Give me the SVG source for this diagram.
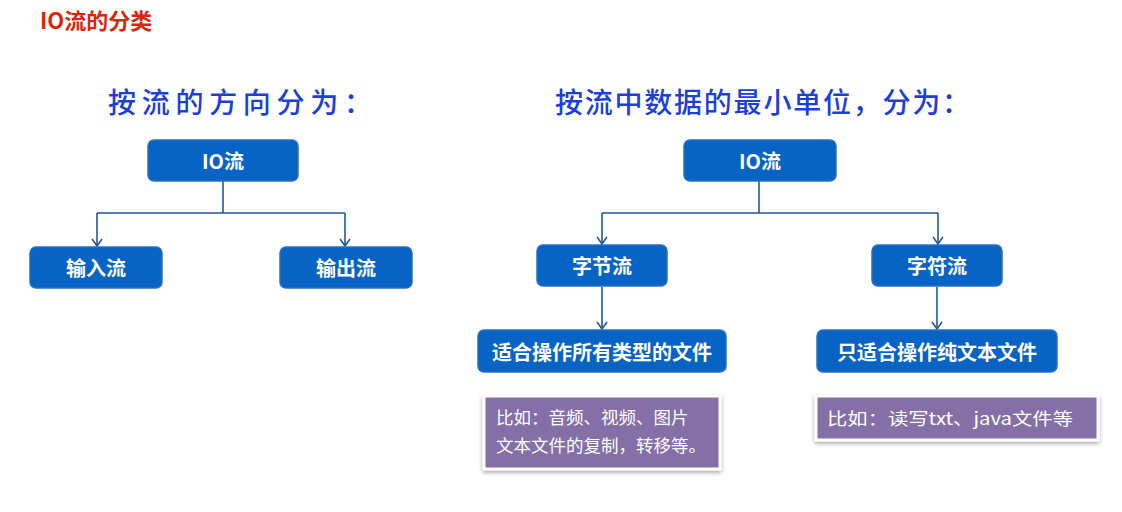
<svg xmlns="http://www.w3.org/2000/svg" width="1122" height="512" viewBox="0 0 1122 512">
<defs>
<style>
.box{fill:#0763c4;stroke:#2a6fbf;stroke-width:1.5}
.bt{font-family:"Noto Sans CJK SC","Noto Sans",sans-serif;font-weight:bold;fill:#fff;font-size:20px;text-anchor:middle;dominant-baseline:central}
.note{fill:#8470a6;stroke:#fff;stroke-width:3}
.nt{font-family:"Noto Sans CJK SC","Noto Sans",sans-serif;fill:#fff;font-size:17.5px}
.head{font-family:"Noto Sans CJK SC",sans-serif;fill:#1c3fd8;font-size:28px;font-weight:500}
.conn{fill:none;stroke:#1f5a98;stroke-width:1.6}
</style>
<marker id="arr" viewBox="0 0 12 12" refX="11" refY="6" markerWidth="12" markerHeight="12" markerUnits="userSpaceOnUse" orient="auto">
<path d="M4,1 L11,6 L4,11" fill="none" stroke="#1f5a98" stroke-width="1.6"/>
</marker>
<filter id="sh" x="-10%" y="-20%" width="120%" height="150%"><feDropShadow dx="0" dy="2" stdDeviation="2" flood-color="#000" flood-opacity="0.35"/></filter>
</defs>
<rect width="1122" height="512" fill="#fff"/>
<text x="40" y="29" font-family="Noto Sans CJK SC,sans-serif" font-weight="bold" font-size="22" fill="#d9260d">IO流的分类</text>
<text class="head" x="108" y="113" textLength="264" lengthAdjust="spacing">按流的方向分为：</text>
<text class="head" x="555" y="113" textLength="415" lengthAdjust="spacing">按流中数据的最小单位，分为：</text>
<g id="connectors">
<path class="conn" d="M223,181 V213 M97,213 H345"/>
<path class="conn" d="M97,213 V246" marker-end="url(#arr)"/>
<path class="conn" d="M345,213 V246" marker-end="url(#arr)"/>
<path class="conn" d="M759,181 V213 M602,213 H938"/>
<path class="conn" d="M602,213 V244" marker-end="url(#arr)"/>
<path class="conn" d="M938,213 V244" marker-end="url(#arr)"/>
<path class="conn" d="M602,287 V329" marker-end="url(#arr)"/>
<path class="conn" d="M937,287 V329" marker-end="url(#arr)"/>
</g>
<g id="io-left"><rect class="box" x="148" y="140" width="150" height="41" rx="6"/><text class="bt" x="223" y="160.5">IO流</text></g>
<g id="input"><rect class="box" x="30" y="247" width="132" height="41" rx="6"/><text class="bt" x="96" y="267.5">输入流</text></g>
<g id="output"><rect class="box" x="280" y="247" width="132" height="41" rx="6"/><text class="bt" x="346" y="267.5">输出流</text></g>
<g id="io-right"><rect class="box" x="684" y="140" width="152" height="41" rx="6"/><text class="bt" x="760" y="160.5">IO流</text></g>
<g id="byte"><rect class="box" x="537" y="245" width="130" height="41" rx="6"/><text class="bt" x="602" y="265.5">字节流</text></g>
<g id="char"><rect class="box" x="872" y="245" width="130" height="41" rx="6"/><text class="bt" x="937" y="265.5">字符流</text></g>
<g id="byte-desc"><rect class="box" x="478" y="330" width="248" height="42" rx="6"/><text class="bt" x="602" y="351">适合操作所有类型的文件</text></g>
<g id="char-desc"><rect class="box" x="817" y="330" width="240" height="42" rx="6"/><text class="bt" x="937" y="351">只适合操作纯文本文件</text></g>
<g id="byte-note"><rect class="note" x="484" y="396" width="236" height="73" filter="url(#sh)"/><text class="nt" x="496" y="424">比如：音频、视频、图片</text><text class="nt" x="496" y="452">文本文件的复制，转移等。</text></g>
<g id="char-note"><rect class="note" x="816" y="396" width="282" height="44" filter="url(#sh)"/><text class="nt" x="827" y="425" textLength="246" lengthAdjust="spacingAndGlyphs">比如：读写txt、java文件等</text></g>
</svg>
